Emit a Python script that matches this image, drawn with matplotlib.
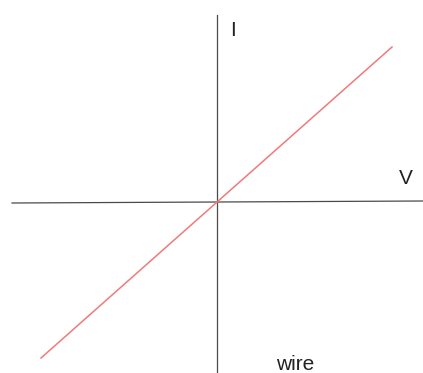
import matplotlib
matplotlib.use('Agg')
import matplotlib.pyplot as plt

# I-V характеристика провода (линейная), начало координат в точке пересечения осей
V = [-176, 175]
I = [-156, 155]

# края осей
v_axis = [-205, 206]
i_axis = [187, -171]

plt.rcParams['font.family'] = ['Liberation Sans', 'DejaVu Sans']

fig = plt.figure(figsize=(4.23, 3.73), dpi=100)
ax = fig.add_axes([0, 0, 1, 1])
ax.set_xlim(-217, 206)
ax.set_ylim(-171, 202)
ax.axis('off')

# оси
ax.plot(v_axis, [-1, 1], color='#4a4a4a', lw=0.9)
ax.plot([0, 0], i_axis, color='#4a4a4a', lw=0.9)

# прямая
ax.plot(V, I, color='#f07a7a', lw=1.1)

ax.text(16, 172, 'I', fontsize=15, color='#222222', ha='center', va='center')
ax.text(189, 24, 'V', fontsize=15, color='#222222', ha='center', va='center')
ax.text(78, -168, 'wire', fontsize=15, color='#222222', ha='center', va='baseline')

fig.savefig('out.png', dpi=100)
